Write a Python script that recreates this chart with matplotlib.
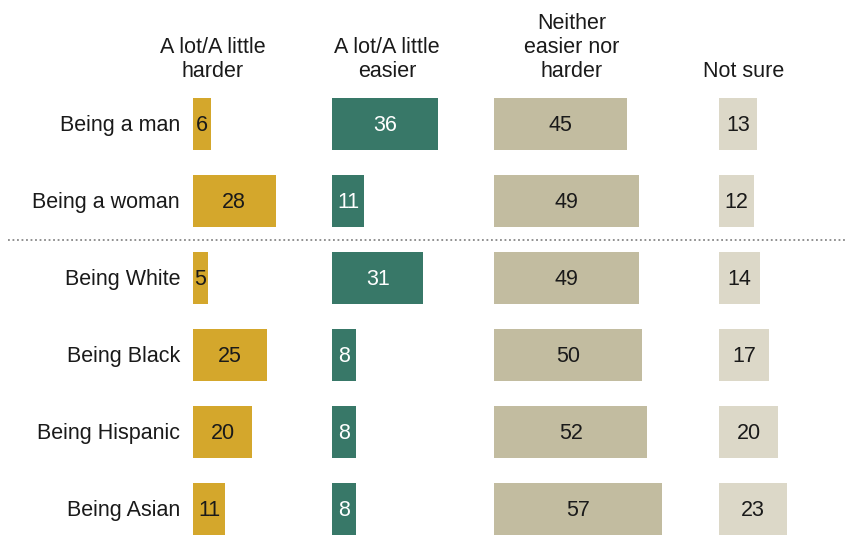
import matplotlib
matplotlib.use("Agg")
import matplotlib.pyplot as plt

plt.rcParams['font.family'] = ['Liberation Sans', 'DejaVu Sans']

rows = ["Being a man", "Being a woman", "Being White", "Being Black", "Being Hispanic", "Being Asian"]
headers = ["A lot/A little\nharder", "A lot/A little\neasier", "Neither\neasier nor\nharder", "Not sure"]
harder = [6, 28, 5, 25, 20, 11]
easier = [36, 11, 31, 8, 8, 8]
neither = [45, 49, 49, 50, 52, 57]
notsure = [13, 12, 14, 17, 20, 23]
series = [harder, easier, neither, notsure]

colors = ["#D4A72C", "#387868", "#C2BCA0", "#DCD8C8"]
text_colors = ["#1a1a1a", "white", "#1a1a1a", "#1a1a1a"]

W, H = 847, 536
PX = 2.95  # pixels per unit
offsets_px = [193, 332, 494, 719]
offsets = [o / PX for o in offsets_px]
header_centers_px = [213, 387, 572, 744]

fig = plt.figure(figsize=(W / 100, H / 100), dpi=100)
ax = fig.add_axes([0, 0, 1, 1])
ax.set_xlim(0, W / PX)
row0, step = 124, 77
ax.set_ylim((H - row0) / step, (0 - row0) / step)
ax.axis('off')

ypos = list(range(len(rows)))
fs = 15.5
for j, vals in enumerate(series):
    ax.barh(ypos, vals, left=offsets[j], height=52 / 77, color=colors[j], linewidth=0)
    for i, v in enumerate(vals):
        ax.text(offsets[j] + v / 2, i + 0.02, str(v), ha='center', va='center',
                color=text_colors[j], fontsize=fs)
    ax.text(header_centers_px[j] / PX, (82 - row0) / step, headers[j], ha='center', va='bottom',
            fontsize=fs, color='#1a1a1a', linespacing=1.2)

for i, r in enumerate(rows):
    ax.text(180 / PX, i + 0.02, r, ha='right', va='center', fontsize=fs, color='#1a1a1a')

ax.plot([8 / PX, W / PX], [1.5, 1.5], linestyle=(0, (1, 1.5)), color='#888888', linewidth=1.3)

fig.savefig("out.png", dpi=100)
